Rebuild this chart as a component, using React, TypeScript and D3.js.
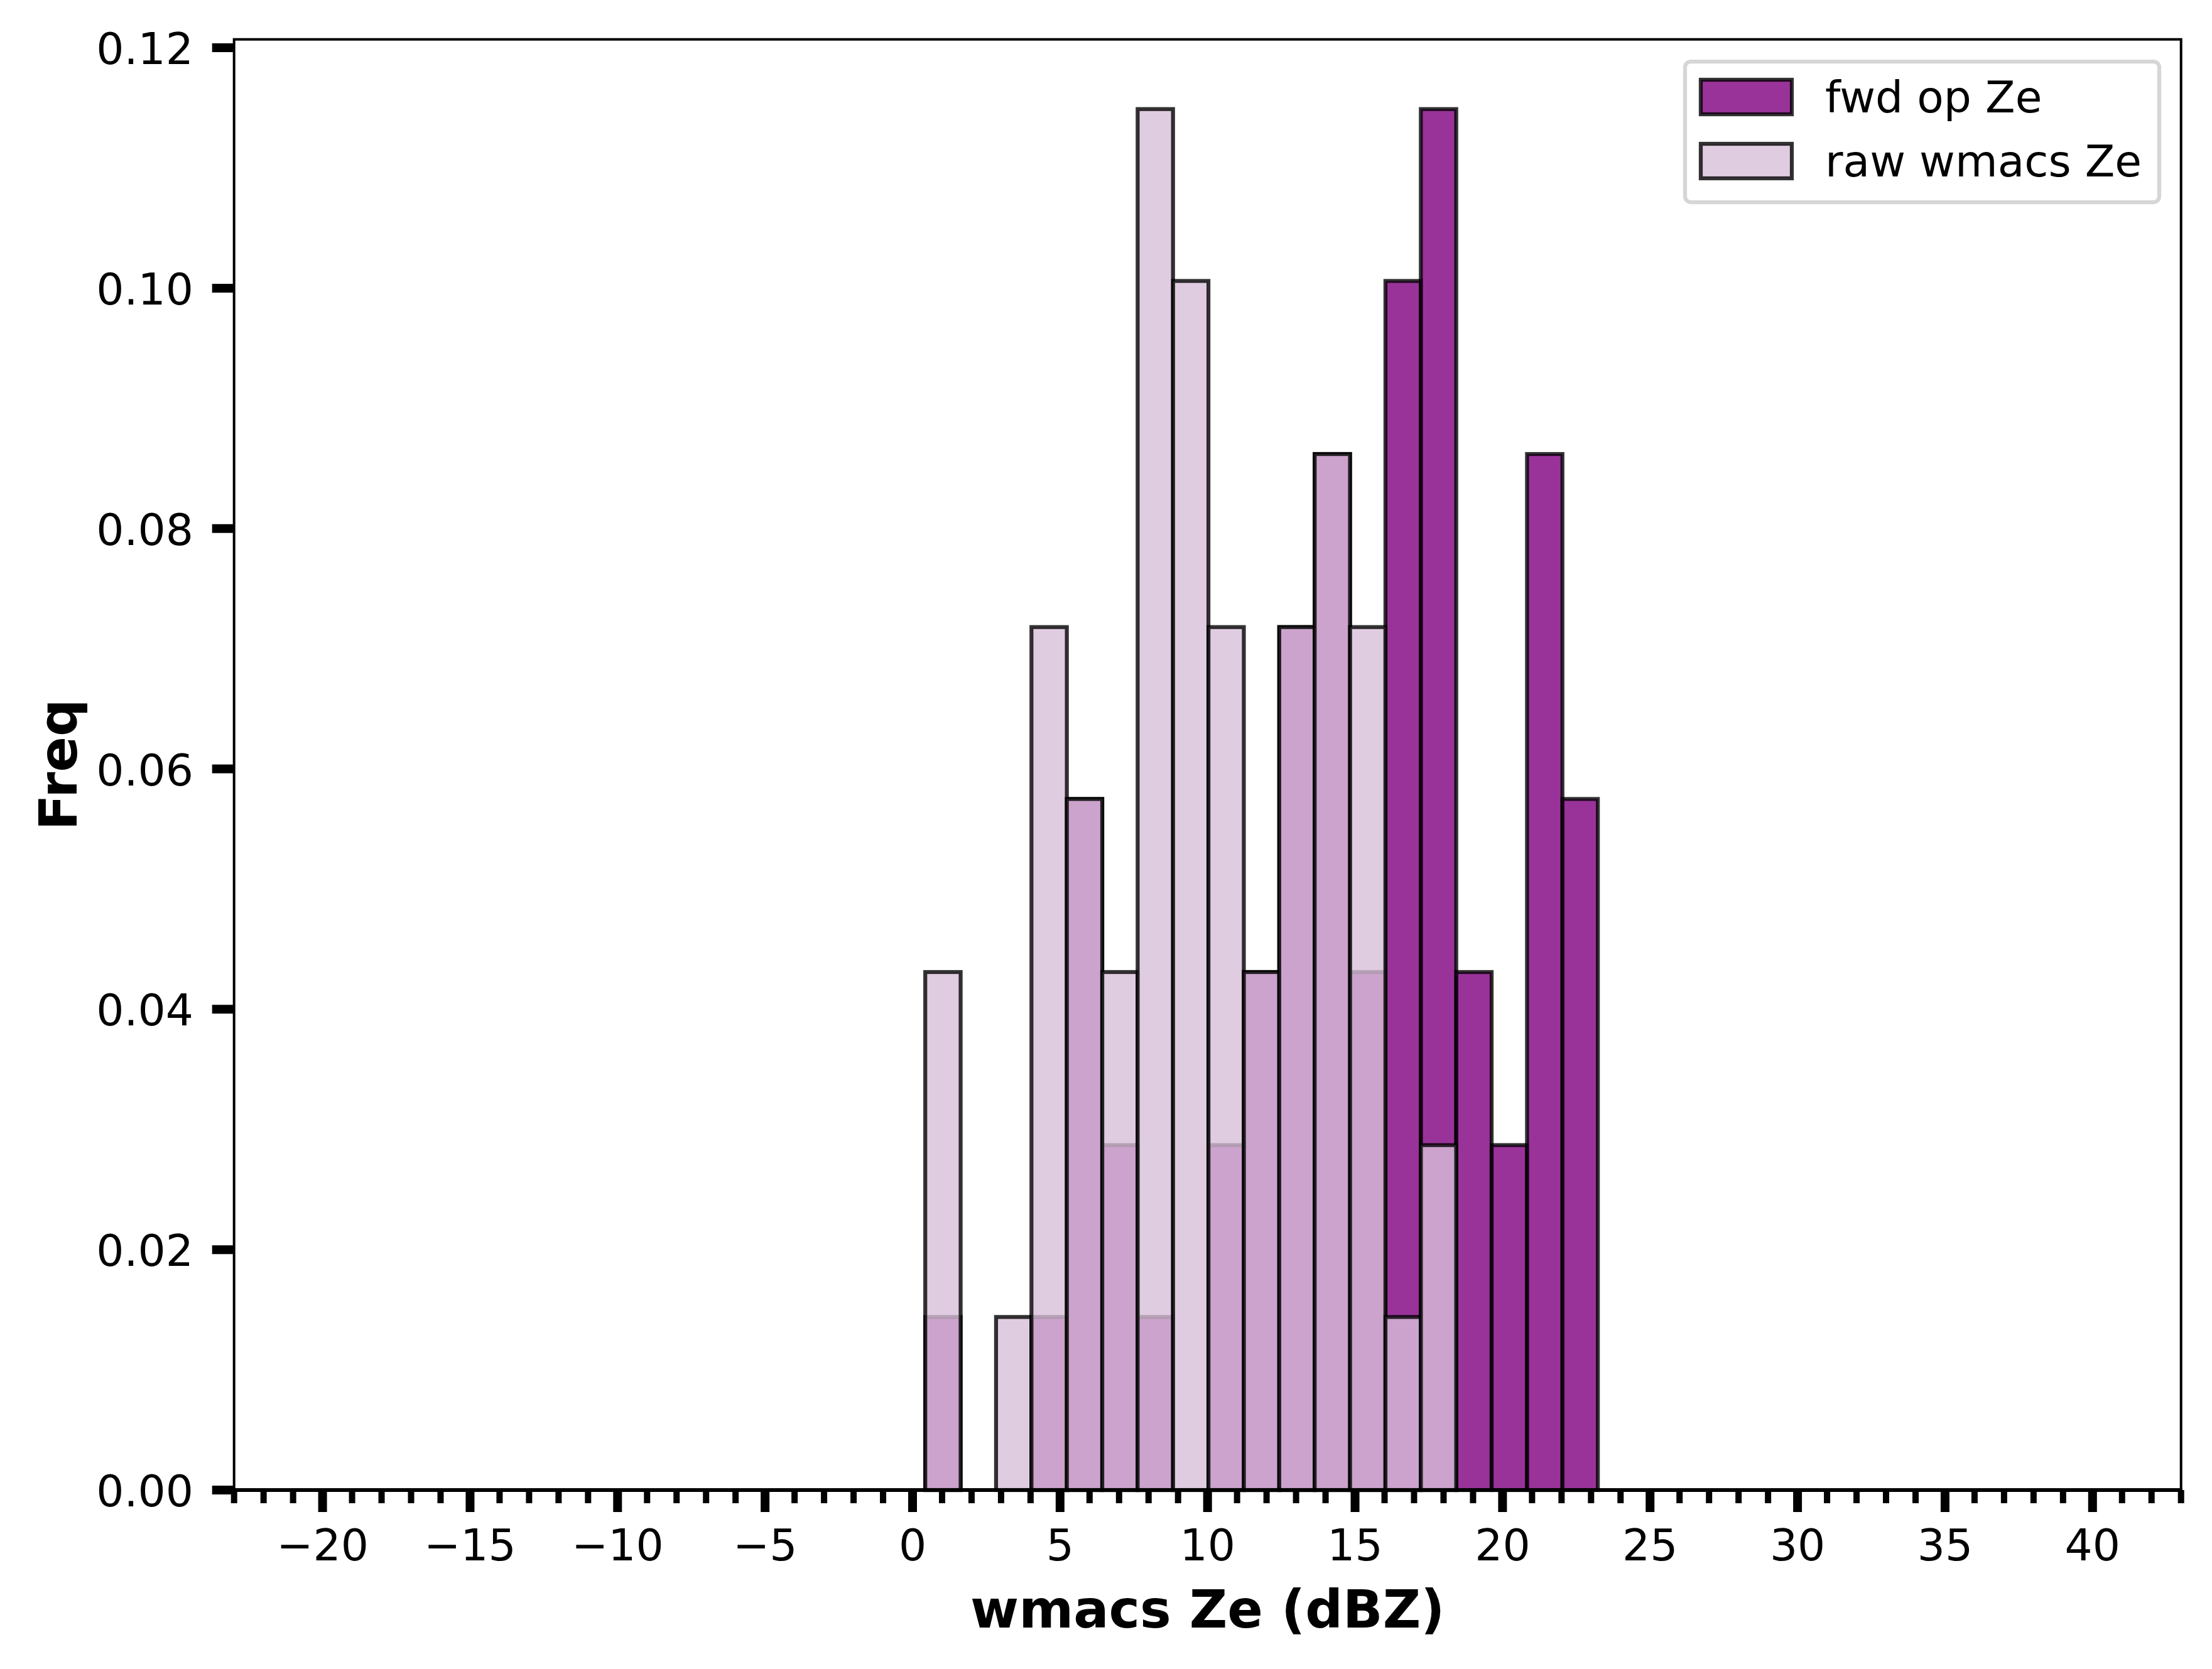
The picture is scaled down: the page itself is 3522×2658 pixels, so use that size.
import { useEffect, useRef } from "react";
import * as d3 from "d3";

// histogram bins (dBZ) and normalised frequencies
const binEdges = [
  0.43, 1.63, 2.83, 4.03, 5.23, 6.43, 7.63, 8.83, 10.03, 11.23,
  12.43, 13.63, 14.83, 16.03, 17.23, 18.43, 19.63, 20.83, 22.03, 23.23,
];
const fwdFreq = [
  0.0144, 0, 0, 0.0144, 0.0575, 0.0287, 0.0144, 0, 0.0287, 0.0431,
  0.0718, 0.0862, 0.0431, 0.1006, 0.1149, 0.0431, 0.0287, 0.0862, 0.0575,
];
const rawFreq = [
  0.0431, 0, 0.0144, 0.0718, 0.0575, 0.0431, 0.1149, 0.1006, 0.0718, 0.0431,
  0.0718, 0.0862, 0.0718, 0.0144, 0.0287, 0, 0, 0, 0,
];
const xMajorTicks = [-20, -15, -10, -5, 0, 5, 10, 15, 20, 25, 30, 35, 40];
const yTicks = [0, 0.02, 0.04, 0.06, 0.08, 0.1, 0.12];
const seriesNames = ["fwd op Ze", "raw wmacs Ze"];
const seriesColors = ["purple", "thistle"];

const W = 3522;
const H = 2658;
const FONT = "DejaVu Sans";
const TICK_FS = 69.5;
const LABEL_FS = 83.5;

const HistChart = () => {
  const svgRef = useRef<SVGSVGElement | null>(null);

  useEffect(() => {
    const svg = d3.select(svgRef.current);
    svg.selectAll("*").remove();
    svg.attr("width", W).attr("height", H).attr("viewBox", `0 0 ${W} ${H}`);

    const left = 372.7, right = 3472.7, top = 62.7, bottom = 2373;

    const x = d3.scaleLinear().domain([-23, 43]).range([left, right]);
    const y = d3.scaleLinear().domain([0, 0.1207]).range([bottom, top]);

    svg.append("rect").attr("width", W).attr("height", H).attr("fill", "#fff");

    // bars: fwd first, raw drawn over it
    const series = [fwdFreq, rawFreq];
    series.forEach((vals, si) => {
      const bins = vals
        .map((v, i) => ({ x0: binEdges[i], x1: binEdges[i + 1], v }))
        .filter(d => d.v > 0);
      svg.append("g")
        .selectAll("rect")
        .data(bins)
        .enter()
        .append("rect")
        .attr("x", d => x(d.x0))
        .attr("y", d => y(d.v))
        .attr("width", d => x(d.x1) - x(d.x0))
        .attr("height", d => y(0) - y(d.v))
        .attr("fill", seriesColors[si])
        .attr("fill-opacity", 0.8)
        .attr("stroke", "#000")
        .attr("stroke-opacity", 0.8)
        .attr("stroke-width", 6.25);
    });

    // spines
    svg.append("rect")
      .attr("x", left)
      .attr("y", top)
      .attr("width", right - left)
      .attr("height", bottom - top)
      .attr("fill", "none")
      .attr("stroke", "#000")
      .attr("stroke-width", 4);
    svg.append("line")
      .attr("x1", left - 2)
      .attr("x2", right + 2)
      .attr("y1", bottom)
      .attr("y2", bottom)
      .attr("stroke", "#000")
      .attr("stroke-width", 6);

    // x ticks
    const minor = d3.range(-23, 44).filter(v => !xMajorTicks.includes(v));
    svg.append("g")
      .selectAll("line")
      .data(minor)
      .enter()
      .append("line")
      .attr("x1", d => x(d))
      .attr("x2", d => x(d))
      .attr("y1", bottom)
      .attr("y2", bottom + 21)
      .attr("stroke", "#000")
      .attr("stroke-width", 10);
    svg.append("g")
      .selectAll("line")
      .data(xMajorTicks)
      .enter()
      .append("line")
      .attr("x1", d => x(d))
      .attr("x2", d => x(d))
      .attr("y1", bottom)
      .attr("y2", bottom + 35)
      .attr("stroke", "#000")
      .attr("stroke-width", 14);
    svg.append("g")
      .selectAll("text")
      .data(xMajorTicks)
      .enter()
      .append("text")
      .attr("x", d => x(d))
      .attr("y", 2485)
      .attr("text-anchor", "middle")
      .attr("font-family", FONT)
      .attr("font-size", TICK_FS)
      .text(d => (d < 0 ? "\u2212" + Math.abs(d) : String(d)));

    // y ticks
    svg.append("g")
      .selectAll("line")
      .data(yTicks)
      .enter()
      .append("line")
      .attr("x1", left - 35)
      .attr("x2", left)
      .attr("y1", d => y(d))
      .attr("y2", d => y(d))
      .attr("stroke", "#000")
      .attr("stroke-width", 14);
    svg.append("g")
      .selectAll("text")
      .data(yTicks)
      .enter()
      .append("text")
      .attr("x", 308)
      .attr("y", d => y(d) + 26)
      .attr("text-anchor", "end")
      .attr("font-family", FONT)
      .attr("font-size", TICK_FS)
      .text(d => d3.format(".2f")(d));

    // axis labels
    svg.append("text")
      .attr("x", (left + right) / 2)
      .attr("y", 2592)
      .attr("text-anchor", "middle")
      .attr("font-family", FONT)
      .attr("font-size", LABEL_FS)
      .attr("font-weight", "bold")
      .text("wmacs Ze (dBZ)");
    svg.append("text")
      .attr("transform", `translate(122, ${(top + bottom) / 2}) rotate(-90)`)
      .attr("text-anchor", "middle")
      .attr("font-family", FONT)
      .attr("font-size", LABEL_FS)
      .attr("font-weight", "bold")
      .text("Freq");

    // legend
    const lg = svg.append("g");
    lg.append("rect")
      .attr("x", 2683)
      .attr("y", 98)
      .attr("width", 3438 - 2683)
      .attr("height", 322 - 98)
      .attr("rx", 9)
      .attr("fill", "#fff")
      .attr("fill-opacity", 0.8)
      .attr("stroke", "#d6d6d6")
      .attr("stroke-width", 6.25);
    seriesNames.forEach((name, i) => {
      const py = 127 + i * 102;
      lg.append("rect")
        .attr("x", 2708)
        .attr("y", py)
        .attr("width", 145)
        .attr("height", 55)
        .attr("fill", seriesColors[i])
        .attr("fill-opacity", 0.8)
        .attr("stroke", "#000")
        .attr("stroke-opacity", 0.8)
        .attr("stroke-width", 6.25);
      lg.append("text")
        .attr("x", 2906)
        .attr("y", 179 + i * 102)
        .attr("font-family", FONT)
        .attr("font-size", TICK_FS)
        .text(name);
    });
  }, []);

  return <svg ref={svgRef} style={{ display: "block" }}></svg>;
};

export default function App() {
  return (
    <div>
      <style>{`body { margin: 0; }`}</style>
      <HistChart />
    </div>
  );
}
